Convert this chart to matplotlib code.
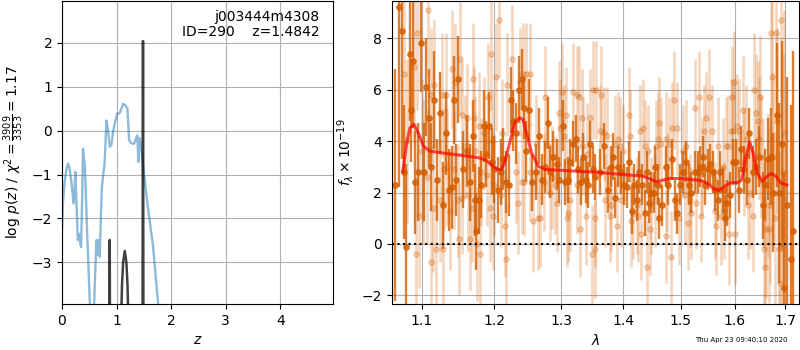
import numpy as np
import matplotlib.pyplot as plt
from matplotlib.ticker import FixedLocator, NullLocator, FixedFormatter

# p(z) panel
chi_z = [0.0, 0.02, 0.05, 0.08, 0.11, 0.14, 0.17, 0.2, 0.215, 0.23, 0.245, 0.26, 0.29, 0.31,
         0.34, 0.35, 0.37, 0.385, 0.42, 0.46, 0.51, 0.55, 0.59, 0.63, 0.65, 0.67, 0.69, 0.73,
         0.78, 0.815, 0.845, 0.875, 0.905, 0.94, 0.967, 1.01, 1.04, 1.06, 1.09, 1.12, 1.16,
         1.20, 1.23, 1.27, 1.32, 1.35, 1.38, 1.40, 1.42, 1.44, 1.46, 1.55, 1.67, 1.76, 1.80]
chi_val = [-2.25, -1.6, -1.15, -0.9, -0.75, -0.85, -1.15, -1.5, -1.66, -1.3, -0.94, -1.45, -2.49,
           -2.35, -2.6, -2.65, -1.5, -0.41, -0.83, -2.3, -3.93, -4.5, -3.9, -2.49, -2.83, -2.49,
           -2.87, -1.28, -0.75, 0.23, 0.0, -0.37, -0.32, 0.0, 0.16, 0.39, 0.39, 0.41, 0.5, 0.61,
           0.58, 0.5, -0.22, -0.29, -0.30, -0.2, -0.11, -0.71, -0.17, -0.3, -0.49, -1.51, -2.65,
           -3.93, -4.3]

pz_z = [0.80, 0.868, 0.875, 0.882, 1.09, 1.10, 1.12, 1.15, 1.18, 1.20, 1.21, 1.474, 1.4842, 1.494, 1.60]
pz_val = [-8, -6, -2.49, -6, -4.0, -3.5, -3.0, -2.74, -3.0, -3.5, -4.0, -6, 2.04, -6, -8]

root = 'j003444m4308'
obj_id = 290
z_best = 1.4842

# spectrum panel
dark_wave = [
    1.066, 1.070, 1.074, 1.077, 1.079, 1.085, 1.086, 1.089, 1.091, 1.095,
    1.099, 1.103, 1.106, 1.110, 1.113, 1.116, 1.120, 1.124, 1.128, 1.132,
    1.136, 1.140, 1.143, 1.146, 1.149, 1.156, 1.161, 1.166, 1.169, 1.173,
    1.174, 1.178, 1.181, 1.185, 1.188, 1.192, 1.196, 1.199, 1.205, 1.210,
    1.213, 1.217, 1.221, 1.224, 1.227, 1.231, 1.236, 1.240, 1.243, 1.247,
    1.251, 1.256, 1.261, 1.266, 1.270, 1.275, 1.279, 1.283, 1.288, 1.293,
    1.297, 1.303, 1.306, 1.310, 1.314, 1.319, 1.323, 1.327, 1.331, 1.335,
    1.339, 1.342, 1.346, 1.350, 1.354, 1.361, 1.368, 1.375, 1.379, 1.383,
    1.387, 1.392, 1.397, 1.402, 1.406, 1.410, 1.415, 1.419, 1.424, 1.427,
    1.432, 1.437, 1.440, 1.444, 1.448, 1.453, 1.455, 1.459, 1.462, 1.466,
    1.473, 1.478, 1.485, 1.490, 1.494, 1.499, 1.504, 1.510, 1.515, 1.519,
    1.525, 1.531, 1.535, 1.540, 1.545, 1.549, 1.554, 1.559, 1.563, 1.568,
    1.572, 1.577, 1.582, 1.586, 1.591, 1.597, 1.603, 1.608, 1.613, 1.618,
    1.623, 1.628, 1.635, 1.641, 1.648, 1.655, 1.660, 1.666, 1.671, 1.676,
    1.683, 1.688, 1.693, 1.698, 1.704, 1.711, 1.716]
dark_flux = [
    2.3, 9.2, 8.3, 2.8, -0.1, 7.4, 5.2, 7.1, 2.4, 2.8,
    7.8, 2.8, 6.1, 4.9, 3.0, 5.6, 2.5, 5.1, 1.5, 4.3,
    2.1, 2.2, 5.6, 2.5, 6.4, 2.9, 3.6, 2.4, 4.2, 1.7,
    0.5, 1.7, 2.3, 4.6, 3.5, 4.6, 3.2, 2.9, 2.1, 2.8,
    3.3, 2.4, 2.3, 5.6, 4.8, 4.3, 6.0, 6.4, 5.3, 3.6,
    5.2, 2.4, 2.8, 4.2, 2.5, 3.0, 4.7, 2.8, 3.4, 3.1,
    2.5, 4.6, 2.4, 2.5, 3.2, 3.9, 4.1, 2.9, 2.4, 3.4,
    2.5, 2.3, 3.9, 2.9, 2.6, 2.8, 3.8, 2.1, 3.0, 3.4,
    1.8, 3.0, 2.8, 2.3, 2.2, 3.2, 1.3, 2.3, 1.7, 2.8,
    2.3, 1.2, 2.8, 1.6, 2.0, 2.0, 3.0, 2.3, 1.0, 1.5,
    3.0, 2.3, 3.3, 1.7, 1.2, 2.3, 2.8, 3.2, 2.3, 2.0,
    2.8, 2.8, 3.0, 3.4, 2.3, 2.9, 3.1, 2.8, 2.1, 1.7,
    2.8, 2.1, 1.0, 1.6, 1.9, 3.2, 3.2, 2.1, 3.7, 2.9,
    2.5, 4.3, 2.8, 3.0, 3.4, 1.5, 2.3, 3.3, 3.4, 2.0,
    5.0, 2.0, 3.9, -1.7, 1.5, -0.6, 0.5]
dark_err = [
    4.5, 7.0, 5.0, 2.6, 3.2, 2.6, 2.0, 2.6, 2.0, 1.9,
    1.9, 1.9, 1.9, 1.9, 1.7, 1.9, 1.6, 1.6, 1.7, 1.6,
    1.6, 1.6, 1.7, 1.4, 1.7, 1.5, 1.4, 1.5, 1.4, 1.4,
    1.5, 1.3, 1.3, 1.4, 1.3, 1.3, 1.3, 1.3, 1.3, 1.3,
    1.2, 1.2, 1.2, 1.3, 1.2, 1.2, 1.3, 1.2, 1.2, 1.2,
    1.2, 1.1, 1.1, 1.1, 1.0, 1.0, 1.0, 1.0, 1.0, 1.0,
    0.9, 1.0, 0.9, 0.9, 0.9, 0.9, 0.9, 0.9, 0.9, 0.9,
    0.9, 0.9, 0.9, 0.9, 0.9, 0.9, 0.9, 0.9, 0.8, 0.9,
    0.8, 0.8, 0.8, 0.8, 0.8, 0.8, 0.9, 0.8, 0.8, 0.8,
    0.8, 0.9, 0.8, 0.8, 0.8, 0.8, 0.8, 0.8, 0.8, 0.8,
    0.8, 0.8, 0.8, 0.8, 0.8, 0.8, 0.8, 0.8, 0.8, 0.8,
    0.8, 0.8, 0.8, 0.8, 0.8, 0.8, 0.8, 0.8, 0.8, 0.8,
    0.8, 0.9, 0.9, 0.9, 0.9, 0.9, 0.9, 0.9, 0.9, 0.9,
    1.0, 1.0, 1.0, 1.1, 1.2, 1.3, 1.4, 1.6, 1.9, 2.3,
    2.8, 3.5, 4.0, 4.5, 5.0, 6.0, 7.0]

light_wave = [
    1.077, 1.081, 1.090, 1.092, 1.094, 1.097, 1.101, 1.102, 1.107, 1.108,
    1.112, 1.113, 1.115, 1.116, 1.119, 1.125, 1.127, 1.128, 1.130, 1.132,
    1.134, 1.138, 1.141, 1.143, 1.145, 1.149, 1.150,
    1.151, 1.154, 1.155, 1.158, 1.161, 1.163, 1.166, 1.168, 1.170, 1.171,
    1.173, 1.175, 1.178, 1.180, 1.181, 1.185, 1.189, 1.191, 1.194, 1.195,
    1.197, 1.198, 1.199, 1.202, 1.206, 1.209, 1.211, 1.216, 1.217, 1.218,
    1.225, 1.232, 1.235, 1.237, 1.240, 1.242, 1.244, 1.247,
    1.252, 1.253, 1.257, 1.261, 1.265, 1.268, 1.273, 1.275, 1.278, 1.282,
    1.286, 1.291, 1.293, 1.296, 1.298, 1.301, 1.304, 1.308, 1.309, 1.311,
    1.314, 1.319, 1.324, 1.325, 1.328, 1.329, 1.332, 1.335, 1.339, 1.341,
    1.345, 1.348, 1.350, 1.353, 1.354,
    1.356, 1.361, 1.363, 1.369, 1.370, 1.374, 1.378, 1.380, 1.386, 1.389,
    1.392, 1.394, 1.397, 1.400, 1.409, 1.411, 1.414, 1.417, 1.423, 1.425,
    1.428, 1.431, 1.434, 1.437, 1.440, 1.442, 1.445, 1.448, 1.454, 1.456,
    1.459, 1.462, 1.465,
    1.473, 1.474, 1.476, 1.479, 1.482, 1.485, 1.488, 1.494, 1.497, 1.504,
    1.507, 1.510, 1.513, 1.516, 1.519, 1.525, 1.528, 1.533, 1.537, 1.539,
    1.543, 1.546, 1.552, 1.557, 1.562, 1.565, 1.568, 1.574, 1.577, 1.580,
    1.583, 1.588, 1.589, 1.592,
    1.595, 1.597, 1.599, 1.601, 1.605, 1.608, 1.615, 1.618, 1.621, 1.625,
    1.630, 1.635, 1.638, 1.641, 1.645, 1.648, 1.650, 1.651, 1.655, 1.658,
    1.659, 1.661, 1.665, 1.668, 1.670, 1.672, 1.674, 1.676, 1.679, 1.681,
    1.684, 1.688, 1.690, 1.691, 1.694, 1.696, 1.698]
light_flux = [
    6.6, 4.0, 6.9, -0.4, 8.2, 1.1, 3.6, 2.8, 2.6, 9.1,
    5.8, -0.7, 1.4, 6.2, -0.2, 1.7, 5.8, -0.2, 2.9, 5.8,
    3.0, 1.3, 6.8, 2.9, 6.3, 1.7, 0.2,
    7.2, 5.0, 1.8, 3.8, 4.9, 1.9, 0.2, 1.4, 6.4, 4.9,
    3.6, 0.0, 4.6, -0.4, 2.8, 4.3, 2.7, 5.7, 1.4, 7.4,
    4.0, 1.1, 2.3, 6.5, 8.7, 1.9, 4.3, 0.7, -0.6, 6.2,
    7.2, 2.8, 1.6, 6.3, 2.4, 6.6, 2.4, 6.6,
    6.6, 2.8, 0.9, 3.9, 1.0, 1.0, 2.4, 5.7, 3.9, 2.0,
    2.6, 2.3, 1.6, 5.1, 4.5, 5.9, 4.2, 5.0, 1.0, 1.2,
    1.7, 5.9, 2.3, 5.8, 5.7, 0.6, 4.9, 3.8, 1.1, 3.5,
    4.9, -0.4, 6.0, -0.2, 1.0,
    6.0, 4.4, 5.8, 4.3, 1.7, 4.2, 1.1, 1.5, 3.9, 0.7,
    4.1, 3.8, 1.7, 3.6, 5.0, 4.2, 0.9, 1.2, 1.5, 1.1,
    4.4, 0.4, 4.5, 3.8, -0.9, 3.6, 0.6, 1.5, 1.7, 3.8,
    4.1, 4.7, 3.9,
    4.1, 0.3, 2.4, 3.9, -0.5, 4.5, 5.6, 4.5, 1.0, 3.6,
    1.9, 3.8, 0.8, 1.7, 1.2, 5.3, 1.6, 5.7, 1.1, 3.0,
    4.4, 4.9, 5.7, 4.4, 1.3, 0.7, 3.8, 1.1, 3.0, 1.3,
    3.8, 3.8, 0.4, 4.4,
    5.7, 4.4, 6.3, 0.4, 4.6, 4.4, 5.2, 3.2, 4.1, 1.5,
    2.0, 1.1, 6.0, 5.1, 4.8, 4.1, 5.7, 3.4, 2.4, -0.2,
    -0.9, 0.6, 2.3, 0.6, 1.5, 8.2, 6.5, 3.4, 1.0, 8.2,
    4.8, -0.2, -1.5, 8.7, -0.1, 2.8, 4.3]
light_err = [
    3.5, 3.2, 3.0, 3.0, 3.0, 2.8, 2.8, 2.8, 2.6, 2.6,
    2.6, 2.6, 2.5, 2.5, 2.5, 2.4, 2.4, 2.4, 2.4, 2.4,
    2.3, 2.3, 2.3, 2.3, 2.3, 2.2, 2.2,
    2.2, 2.1, 2.2, 2.0, 2.1, 2.2, 2.0, 2.1, 2.2, 2.0,
    2.1, 2.2, 2.1, 2.0, 2.1, 2.2, 2.0, 2.1, 2.1, 2.2,
    2.0, 2.1, 2.0, 2.1, 2.2, 2.0, 2.1, 2.0, 2.1, 2.0,
    2.1, 2.0, 2.0, 2.1, 2.0, 2.0, 2.1, 2.0,
    2.0, 1.9, 2.0, 1.9, 2.0, 1.9, 1.9, 2.0, 1.9, 1.9,
    2.0, 1.9, 1.9, 2.0, 1.9, 1.9, 2.0, 1.9, 1.9, 1.9,
    2.0, 1.9, 1.9, 1.9, 2.0, 1.9, 1.9, 1.9, 1.9, 2.0,
    1.9, 1.9, 1.9, 1.9, 1.9,
    1.9, 1.8, 1.9, 1.8, 1.8, 1.9, 1.8, 1.8, 1.9, 1.8,
    1.8, 1.9, 1.8, 1.8, 1.9, 1.8, 1.8, 1.8, 1.9, 1.8,
    1.8, 1.8, 1.9, 1.8, 1.8, 1.8, 1.8, 1.9, 1.8, 1.8,
    1.8, 1.8, 1.8,
    1.8, 1.8, 1.9, 1.8, 1.8, 1.8, 1.9, 1.8, 1.8, 1.8,
    1.9, 1.8, 1.8, 1.8, 1.8, 1.9, 1.8, 1.8, 1.8, 1.9,
    1.8, 1.8, 1.9, 1.8, 1.9, 1.9, 1.9, 1.9, 1.9, 1.9,
    1.9, 2.0, 2.0, 2.0,
    2.0, 2.0, 2.0, 2.0, 2.0, 2.0, 2.1, 2.1, 2.1, 2.1,
    2.2, 2.2, 2.2, 2.3, 2.3, 2.4, 2.4, 2.4, 2.5, 2.6,
    2.6, 2.7, 2.8, 2.9, 3.0, 3.1, 3.2, 3.3, 3.4, 3.5,
    3.6, 3.8, 4.0, 4.2, 4.4, 4.6, 4.8]

model_wave = [1.0753, 1.0805, 1.0847, 1.0899, 1.0955, 1.1021, 1.111, 1.1332, 1.1558, 1.1789,
              1.1883, 1.1978, 1.2051, 1.21, 1.2149, 1.2222, 1.2296, 1.237, 1.242, 1.247,
              1.2545, 1.2646, 1.2749, 1.3035, 1.3566, 1.4116, 1.4341, 1.4456, 1.4572, 1.466,
              1.4807, 1.4986, 1.5167, 1.535, 1.5473, 1.5597, 1.569, 1.5785, 1.5912, 1.6072,
              1.6137, 1.6203, 1.6287, 1.6355, 1.6434, 1.6534, 1.6635, 1.6716, 1.6804, 1.6906,
              1.703]
model_flux = [2.81, 3.94, 4.52, 4.65, 4.32, 3.81, 3.61, 3.52, 3.44, 3.35,
              3.26, 3.03, 2.9, 2.9, 3.16, 3.94, 4.71, 4.91, 4.84, 4.32,
              3.55, 3.03, 2.9, 2.86, 2.79, 2.68, 2.64, 2.53, 2.42, 2.47,
              2.55, 2.55, 2.51, 2.47, 2.38, 2.16, 2.08, 2.21, 2.38, 2.40,
              2.5, 3.29, 3.96, 3.55, 2.77, 2.44, 2.64, 2.74, 2.64, 2.38,
              2.29]

wave_ticks = [1.1, 1.2, 1.3, 1.4, 1.5, 1.6, 1.7]
grism_color = '#d55e00'

fig = plt.figure(figsize=(8, 3.5), dpi=100)
ax1 = fig.add_axes([0.0775, 0.131, 0.339, 0.866])
ax2 = fig.add_axes([0.4896, 0.131, 0.5094, 0.866])

ax1.plot(chi_z, chi_val, color='#1f77b4', alpha=0.5, lw=1.7)
ax1.plot(pz_z, pz_val, color='k', alpha=0.75, lw=1.8)
ax1.set_xlim(0, 4.97)
ax1.set_ylim(-3.95, 2.95)
ax1.set_xticks([0, 1, 2, 3, 4])
ax1.set_yticks([-3, -2, -1, 0, 1, 2])
ax1.grid(True)
ax1.set_xlabel('$z$')
ax1.set_ylabel(r'$\log\,p(z)$ / $\chi^2=\frac{3909}{3353}=1.17$')
ax1.text(0.95, 0.97, '{0}\nID={1}    z={2:.4f}'.format(root, obj_id, z_best),
         ha='right', va='top', transform=ax1.transAxes, fontsize=10, linespacing=1.1)

ax2.errorbar(light_wave, light_flux, yerr=light_err, color=grism_color, alpha=0.25,
             marker='o', ms=3.8, linestyle='None', elinewidth=1.9)
ax2.errorbar(dark_wave, dark_flux, yerr=dark_err, color=grism_color, alpha=0.8,
             marker='o', ms=3.8, linestyle='None', elinewidth=1.7)
ax2.plot(model_wave, model_flux, color='r', alpha=0.7, lw=2.2, zorder=5)
ax2.axhline(0, color='k', linestyle=':', lw=1.5, zorder=6)

ax2.set_xscale('log')
ax2.set_xlim(1.0612, 1.7284)
ax2.set_ylim(-2.34, 9.45)
ax2.xaxis.set_major_locator(FixedLocator(wave_ticks))
ax2.xaxis.set_major_formatter(FixedFormatter(['{0:.1f}'.format(w) for w in wave_ticks]))
ax2.xaxis.set_minor_locator(NullLocator())
ax2.set_yticks([-2, 0, 2, 4, 6, 8])
ax2.grid(True)
ax2.set_xlabel(r'$\lambda$')
ax2.set_ylabel(r'$f_\lambda\times10^{-19}$')

fig.text(0.984, 0.029, 'Thu Apr 23 09:40:10 2020', ha='right', va='center', fontsize=5)

fig.savefig('out.png', dpi=100)
